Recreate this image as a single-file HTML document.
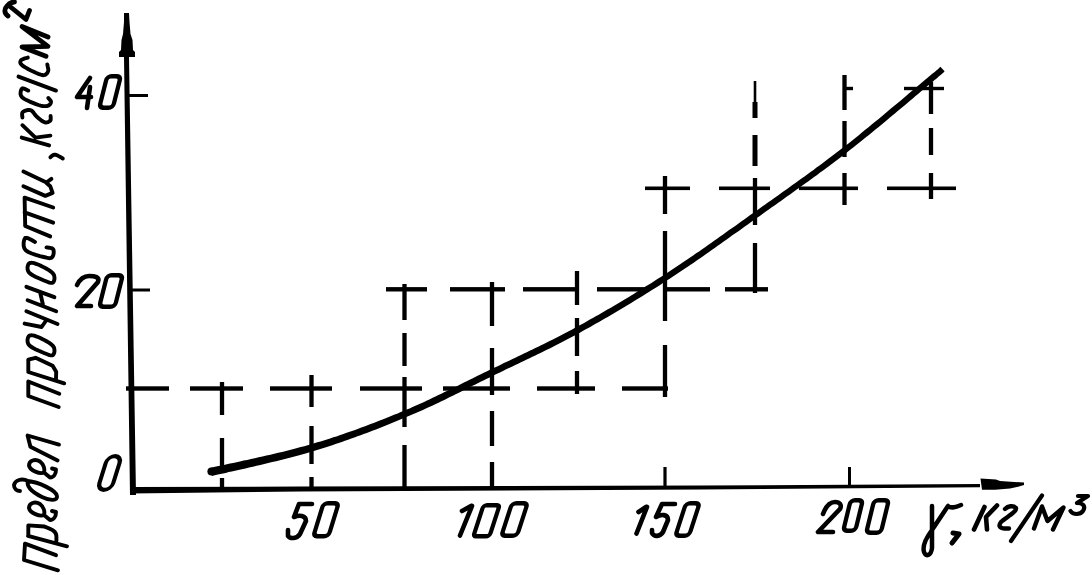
<!DOCTYPE html>
<html><head><meta charset="utf-8"><style>
html,body{margin:0;padding:0;background:#fff;width:1092px;height:575px;overflow:hidden}
svg{display:block}
text{font-family:"Liberation Sans",sans-serif;font-style:italic}
</style></head><body>
<svg width="1092" height="575" viewBox="0 0 1092 575">
<polygon points="124,14 129,14 129,57 136,495 130,495 124,57" fill="#000"/>
<polygon points="124,13 129,13 129.5,22 130.5,34 132.5,40 133,50 135,52 135,57 119,57 119,52 121,50 121.5,40 123,34 124,22" fill="#000"/>
<polygon points="130,487 300,486.5 700,485.5 980,484 980,487.2 700,489.6 300,491.5 130,493.5" fill="#000"/>
<polygon points="980.5,478.6 996,479.5 1000,481 1024,482.5 1024,485 1018,486.8 1010,488.5 995,489.7 982,489.7" fill="#000"/>
<rect x="128" y="94" width="20" height="3" fill="#000"/>
<rect x="130" y="288.5" width="20" height="3" fill="#000"/>
<rect x="126" y="386.3" width="43" height="4.4" fill="#000"/>
<rect x="190" y="386.3" width="53" height="4.4" fill="#000"/>
<rect x="270" y="386.3" width="62" height="4.4" fill="#000"/>
<rect x="360" y="386.3" width="62" height="4.4" fill="#000"/>
<rect x="443" y="386.3" width="67" height="4.4" fill="#000"/>
<rect x="537" y="386.3" width="58" height="4.4" fill="#000"/>
<rect x="622" y="386.3" width="46" height="4.4" fill="#000"/>
<rect x="386" y="287.1" width="41" height="4.4" fill="#000"/>
<rect x="450" y="287.1" width="55" height="4.4" fill="#000"/>
<rect x="523" y="287.1" width="55" height="4.4" fill="#000"/>
<rect x="597" y="287.1" width="52" height="4.4" fill="#000"/>
<rect x="664" y="287.1" width="46" height="4.4" fill="#000"/>
<rect x="725" y="287.1" width="43" height="4.4" fill="#000"/>
<rect x="645" y="186.5" width="45" height="3.6" fill="#000"/>
<rect x="719" y="186.5" width="51" height="3.6" fill="#000"/>
<rect x="799" y="186.5" width="59" height="3.6" fill="#000"/>
<rect x="887" y="186.5" width="69" height="3.6" fill="#000"/>
<rect x="904" y="86.8" width="40" height="3.4" fill="#000"/>
<rect x="844" y="86.8" width="9" height="3.4" fill="#000"/>
<rect x="219.85" y="382" width="4.3" height="33" fill="#000"/>
<rect x="219.85" y="438" width="4.3" height="35" fill="#000"/>
<rect x="219.85" y="478" width="4.3" height="12" fill="#000"/>
<rect x="309.35" y="375" width="4.3" height="32" fill="#000"/>
<rect x="309.35" y="426" width="4.3" height="38" fill="#000"/>
<rect x="309.35" y="477" width="4.3" height="13" fill="#000"/>
<rect x="402.35" y="284" width="4.3" height="36" fill="#000"/>
<rect x="402.35" y="333" width="4.3" height="33" fill="#000"/>
<rect x="402.35" y="377" width="4.3" height="50" fill="#000"/>
<rect x="402.35" y="445" width="4.3" height="45" fill="#000"/>
<rect x="489.85" y="282" width="4.3" height="44" fill="#000"/>
<rect x="489.85" y="348" width="4.3" height="47" fill="#000"/>
<rect x="489.85" y="411" width="4.3" height="35" fill="#000"/>
<rect x="489.85" y="462" width="4.3" height="26" fill="#000"/>
<rect x="574.85" y="271" width="4.3" height="34" fill="#000"/>
<rect x="574.85" y="318" width="4.3" height="38" fill="#000"/>
<rect x="574.85" y="371" width="4.3" height="23" fill="#000"/>
<rect x="662.85" y="176" width="4.3" height="38" fill="#000"/>
<rect x="662.85" y="231" width="4.3" height="90" fill="#000"/>
<rect x="662.85" y="345" width="4.3" height="52" fill="#000"/>
<rect x="663.4" y="467" width="3.2" height="20" fill="#000"/>
<rect x="753.7" y="81" width="2.6" height="23" fill="#000"/>
<rect x="752.5" y="102" width="5" height="16" fill="#000"/>
<rect x="752.5" y="135" width="5" height="31" fill="#000"/>
<rect x="752.85" y="178" width="4.3" height="47" fill="#000"/>
<rect x="752.85" y="243" width="4.3" height="50" fill="#000"/>
<rect x="842.35" y="75" width="4.3" height="35" fill="#000"/>
<rect x="842.35" y="121" width="4.3" height="36" fill="#000"/>
<rect x="842.35" y="173" width="4.3" height="32" fill="#000"/>
<rect x="928.85" y="82" width="4.3" height="32" fill="#000"/>
<rect x="928.85" y="128" width="4.3" height="27" fill="#000"/>
<rect x="928.85" y="173" width="4.3" height="26" fill="#000"/>
<rect x="848.0" y="467" width="3" height="18" fill="#000"/>
<polygon points="211.9,476.0 213.7,475.6 215.7,475.1 217.9,474.6 220.4,474.1 223.0,473.5 225.8,472.9 228.7,472.1 231.8,471.4 235.0,470.7 238.4,470.0 241.8,469.2 245.4,468.4 249.1,467.5 252.8,466.7 256.6,465.8 260.4,464.9 264.3,464.0 268.2,463.1 272.2,462.1 276.1,461.2 280.0,460.2 283.9,459.3 287.8,458.2 291.6,457.2 295.4,456.3 299.2,455.3 302.8,454.3 306.3,453.2 309.7,452.3 313.0,451.3 316.2,450.3 319.5,449.3 322.8,448.2 326.0,447.2 329.1,446.2 332.3,445.2 335.5,444.1 338.7,443.0 341.8,441.9 345.0,440.8 348.1,439.7 351.3,438.6 354.4,437.5 357.5,436.3 360.6,435.2 363.7,434.0 366.8,432.9 369.9,431.7 373.0,430.5 376.0,429.4 379.1,428.2 382.1,427.0 385.2,425.8 388.3,424.6 391.3,423.3 394.3,422.0 397.3,420.8 400.3,419.6 403.3,418.3 406.3,417.1 409.3,415.8 412.2,414.6 415.3,413.3 418.2,412.0 421.1,410.7 424.0,409.4 426.9,408.1 429.8,406.7 432.7,405.4 435.7,404.0 438.5,402.7 441.4,401.3 444.3,399.9 447.1,398.5 449.9,397.1 452.8,395.7 455.6,394.3 458.4,392.9 461.3,391.5 464.1,390.0 466.9,388.6 469.7,387.2 472.6,385.8 475.4,384.4 478.2,383.0 481.1,381.6 483.9,380.2 486.8,378.8 489.6,377.4 492.5,376.0 495.4,374.6 498.1,373.2 501.0,371.9 503.9,370.5 506.7,369.1 509.6,367.8 512.4,366.4 515.3,365.0 518.1,363.7 521.0,362.3 523.8,361.0 526.7,359.6 529.6,358.2 532.4,356.8 535.3,355.5 538.1,354.1 541.0,352.7 543.9,351.3 546.8,349.8 549.7,348.4 552.6,346.9 555.4,345.5 558.3,344.0 561.2,342.6 564.1,341.1 566.9,339.6 569.8,338.1 572.7,336.5 575.6,335.0 578.5,333.4 581.5,331.7 584.4,330.1 587.3,328.5 590.2,326.9 593.1,325.2 596.0,323.6 599.0,321.9 601.9,320.3 604.8,318.6 607.7,316.9 610.6,315.2 613.6,313.5 616.5,311.8 619.4,310.0 622.4,308.2 625.3,306.4 628.2,304.7 631.2,302.9 634.2,301.1 637.1,299.3 640.1,297.5 643.0,295.7 646.0,293.8 648.9,292.0 651.9,290.1 654.9,288.3 657.8,286.4 660.8,284.5 663.7,282.5 666.7,280.6 669.7,278.7 672.6,276.7 675.6,274.8 678.6,272.8 681.6,270.8 684.6,268.8 687.7,266.8 690.6,264.7 693.7,262.7 696.7,260.6 699.7,258.5 702.7,256.4 705.7,254.3 708.7,252.2 711.7,250.1 714.7,247.9 717.7,245.8 720.7,243.7 723.7,241.6 726.7,239.4 729.7,237.3 732.7,235.1 735.8,233.0 738.8,230.9 741.8,228.7 744.8,226.6 747.8,224.4 750.8,222.3 753.8,220.1 756.8,218.0 759.8,215.9 762.8,213.7 765.8,211.6 768.8,209.5 771.8,207.3 774.9,205.2 777.9,203.0 780.9,200.9 783.9,198.7 786.9,196.6 790.0,194.4 793.0,192.3 796.0,190.1 799.0,188.0 802.0,185.8 805.1,183.6 808.1,181.4 811.1,179.2 814.1,177.0 817.1,174.9 820.1,172.6 823.1,170.4 826.1,168.2 829.2,166.0 832.1,163.8 835.1,161.5 838.1,159.3 841.0,157.0 844.0,154.8 846.9,152.4 849.9,150.1 852.9,147.7 856.0,145.2 859.1,142.7 862.3,140.2 865.6,137.6 868.9,134.9 872.2,132.3 875.4,129.6 878.7,126.9 882.0,124.2 885.3,121.5 888.5,118.8 891.7,116.1 894.9,113.4 898.0,110.8 901.1,108.2 904.2,105.7 907.1,103.2 910.0,100.8 912.8,98.4 915.5,96.1 918.1,93.9 920.6,91.8 923.0,89.8 925.3,87.9 927.4,86.1 929.4,84.4 931.3,82.8 933.0,81.4 934.5,80.1 936.0,78.9 937.2,77.9 938.4,76.8 940.3,75.2 941.8,74.0 943.3,72.7 944.6,71.3 940.4,66.7 939.1,68.1 937.6,69.4 936.3,70.6 934.4,72.2 933.2,73.1 932.0,74.1 930.5,75.3 929.0,76.6 927.3,78.0 925.4,79.6 923.4,81.3 921.3,83.1 919.0,85.0 916.6,87.0 914.1,89.1 911.5,91.3 908.8,93.6 906.0,96.0 903.1,98.4 900.2,100.9 897.1,103.4 894.0,106.0 890.9,108.6 887.7,111.3 884.5,114.0 881.3,116.7 878.0,119.4 874.7,122.1 871.4,124.8 868.2,127.5 864.9,130.1 861.6,132.8 858.5,135.4 855.3,137.9 852.2,140.4 849.1,142.9 846.1,145.3 843.1,147.6 840.2,149.8 837.2,152.0 834.3,154.3 831.3,156.5 828.3,158.8 825.4,161.0 822.5,163.2 819.5,165.4 816.5,167.6 813.5,169.9 810.5,172.0 807.5,174.2 804.5,176.4 801.5,178.6 798.4,180.8 795.4,183.0 792.4,185.1 789.4,187.3 786.4,189.4 783.3,191.6 780.3,193.7 777.3,195.9 774.3,198.0 771.3,200.2 768.2,202.3 765.2,204.5 762.2,206.6 759.2,208.7 756.2,210.9 753.2,213.0 750.2,215.1 747.2,217.3 744.2,219.4 741.2,221.6 738.2,223.7 735.2,225.9 732.2,228.0 729.1,230.1 726.1,232.3 723.1,234.4 720.1,236.6 717.1,238.7 714.1,240.8 711.1,242.9 708.1,245.1 705.1,247.2 702.1,249.3 699.1,251.4 696.1,253.3 693.1,255.4 690.1,257.5 687.2,259.5 684.1,261.6 681.2,263.6 678.2,265.6 675.2,267.6 672.2,269.6 669.2,271.5 666.3,273.5 663.3,275.4 660.3,277.3 657.4,279.1 654.4,281.0 651.5,282.9 648.5,284.7 645.5,286.6 642.6,288.4 639.6,290.3 636.7,292.1 633.7,293.9 630.8,295.7 628.0,297.5 625.0,299.3 622.1,301.0 619.2,302.8 616.2,304.4 613.3,306.2 610.4,307.9 607.4,309.6 604.5,311.3 601.6,313.0 598.7,314.7 595.8,316.3 592.8,318.0 589.9,319.6 587.0,321.3 584.1,322.9 581.2,324.5 578.3,326.1 575.5,327.6 572.6,329.2 569.7,330.7 566.8,332.3 563.9,333.8 561.1,335.3 558.2,336.8 555.3,338.2 552.4,339.7 549.6,341.1 546.7,342.6 543.8,344.0 541.1,345.3 538.2,346.7 535.3,348.1 532.5,349.5 529.6,350.8 526.8,352.2 523.9,353.6 521.0,355.0 518.2,356.3 515.3,357.7 512.5,359.0 509.6,360.4 506.8,361.8 503.9,363.1 501.1,364.5 498.2,365.9 495.3,367.2 492.4,368.6 489.5,370.0 486.6,371.4 483.8,372.8 480.9,374.2 478.1,375.6 475.2,377.0 472.4,378.4 469.6,379.8 466.7,381.2 463.9,382.6 461.1,384.0 458.3,385.5 455.4,386.9 452.6,388.3 449.8,389.7 446.9,390.9 444.1,392.3 441.3,393.7 438.4,395.1 435.5,396.5 432.7,397.8 429.9,399.2 427.0,400.5 424.1,401.9 421.2,403.2 418.3,404.5 415.4,405.8 412.5,407.1 409.6,408.4 406.7,409.6 403.7,410.9 400.7,412.1 397.7,413.4 394.7,414.6 391.7,415.8 388.7,417.1 385.7,418.2 382.6,419.4 379.7,420.6 376.7,421.8 373.6,423.0 370.6,424.1 367.5,425.3 364.4,426.5 361.3,427.6 358.2,428.8 355.1,429.9 352.0,430.9 348.9,432.0 345.9,433.1 342.8,434.2 339.6,435.3 336.5,436.4 333.3,437.3 330.1,438.4 326.9,439.4 323.8,440.4 320.6,441.4 317.3,442.3 314.2,443.3 311.0,444.3 307.7,445.3 304.3,446.2 300.8,447.1 297.2,448.1 293.6,449.1 289.8,450.0 286.0,451.0 282.1,451.9 278.2,452.8 274.3,453.8 270.4,454.7 266.4,455.5 262.5,456.4 258.6,457.3 254.8,458.2 251.0,459.1 247.3,459.9 243.6,460.6 240.0,461.4 236.6,462.2 233.2,462.9 230.0,463.6 226.9,464.3 224.0,464.9 221.2,465.5 218.6,466.1 216.1,466.6 213.9,467.1 211.9,467.6 210.1,468.0" fill="#000"/>
<circle cx="211.5" cy="471.5" r="4.1" fill="#000"/>
<path d="M90,78 L77,97 L91,97 M90,87 L87,108" fill="none" stroke="#000" stroke-width="4.6" stroke-linecap="round" stroke-linejoin="round"/>
<g transform="translate(96.5,110) skewX(-14.04)"><rect x="2.2" y="-33.8" width="13.60" height="31.6" rx="4" fill="none" stroke="#000" stroke-width="4.4"/></g>
<path d="M77,285 C80,279 84,276 89,276 C95,276 100,277 98,282 L77,306 L91,306" fill="none" stroke="#000" stroke-width="4.6" stroke-linecap="round" stroke-linejoin="round"/>
<g transform="translate(96.5,309) skewX(-14.04)"><rect x="2.2" y="-33.8" width="15.60" height="31.6" rx="4" fill="none" stroke="#000" stroke-width="4.4"/></g>
<g transform="translate(94.5,492) skewX(-17.53)"><rect x="2.1" y="-35.9" width="13.80" height="33.8" rx="7" fill="none" stroke="#000" stroke-width="4.2"/></g>
<path d="M312,504 L299,504 L294,517 C299,515 306,515 306,521 L300,534 C297,539 290,539 288,536 L288,530" fill="none" stroke="#000" stroke-width="4.6" stroke-linecap="round" stroke-linejoin="round"/>
<g transform="translate(310.5,538.5) skewX(-17.05)"><rect x="2.2" y="-35.3" width="15.10" height="33.1" rx="4" fill="none" stroke="#000" stroke-width="4.4"/></g>
<path d="M462,511 L471,506 M472,506 L460,535.5" fill="none" stroke="#000" stroke-width="4.6" stroke-linecap="round" stroke-linejoin="round"/>
<g transform="translate(470.5,538.5) skewX(-17.95)"><rect x="2.2" y="-33.3" width="16.10" height="31.1" rx="3" fill="none" stroke="#000" stroke-width="4.4"/></g>
<g transform="translate(498.5,538) skewX(-17.97)"><rect x="2.2" y="-34.8" width="15.60" height="32.6" rx="4" fill="none" stroke="#000" stroke-width="4.4"/></g>
<path d="M638.5,512 L646,507 M647,507 L636.5,533.5" fill="none" stroke="#000" stroke-width="4.6" stroke-linecap="round" stroke-linejoin="round"/>
<path d="M675,504 L662,504 L656,517 C661,514 668,514 668,520 L663,532 C660,537 654,537 652,533 L652,530" fill="none" stroke="#000" stroke-width="4.6" stroke-linecap="round" stroke-linejoin="round"/>
<g transform="translate(672.5,538) skewX(-17.97)"><rect x="2.2" y="-34.8" width="13.60" height="32.6" rx="4" fill="none" stroke="#000" stroke-width="4.4"/></g>
<path d="M823,514 C826,506 830,502 835,502 C840,502 842,505 840,509 L818,532 L833,532" fill="none" stroke="#000" stroke-width="4.6" stroke-linecap="round" stroke-linejoin="round"/>
<g transform="translate(840.5,533) skewX(-13.65)"><rect x="2.2" y="-32.8" width="12.10" height="30.6" rx="4" fill="none" stroke="#000" stroke-width="4.4"/></g>
<g transform="translate(863.5,535) skewX(-13.67)"><rect x="2.2" y="-34.8" width="14.60" height="32.6" rx="4" fill="none" stroke="#000" stroke-width="4.4"/></g>
<path d="M56,555.2 L25,543.7 L24,560 L58,570.3" fill="none" stroke="#000" stroke-width="3.9" stroke-linecap="round" stroke-linejoin="round"/>
<path d="M28,535.9 L67,546.3 M28.3,535 L28.3,525.4 L44.4,526.5 C51,529 56.4,531 56.4,536 L56.4,541" fill="none" stroke="#000" stroke-width="3.9" stroke-linecap="round" stroke-linejoin="round"/>
<path d="M44,515 C40,517 30,513 29,508 C29,503 35,501 40,504 C44,507 45,512 44,515 L50,520 C54,520 56,516 56,512 L52,511" fill="none" stroke="#000" stroke-width="3.9" stroke-linecap="round" stroke-linejoin="round"/>
<path d="M28,481 C38,482 56,490 57,496 C58,501 50,501 42,497 C34,493 26,487 28,481 C22,478 15,480 14,485 C14,489 17,491 20,491" fill="none" stroke="#000" stroke-width="3.9" stroke-linecap="round" stroke-linejoin="round"/>
<path d="M44,472.5 C40,474.5 30,470.5 29,465.5 C29,460.5 35,458.5 40,461.5 C44,464.5 45,469.5 44,472.5 L50,477.5 C54,477.5 56,473.5 56,469.5 L52,468.5" fill="none" stroke="#000" stroke-width="3.9" stroke-linecap="round" stroke-linejoin="round"/>
<path d="M59,444.6 L27.6,435.5 L30.4,446.8 L57.6,460.4" fill="none" stroke="#000" stroke-width="3.9" stroke-linecap="round" stroke-linejoin="round"/>
<path d="M59.3,393.7 L28.3,381.5 L28.3,396 L58.7,407" fill="none" stroke="#000" stroke-width="3.9" stroke-linecap="round" stroke-linejoin="round"/>
<path d="M28.3,372 L64.2,383.3 M28.3,371 L28.3,359.6 L35.6,357.8 L52.6,365.7 L56.2,371.8 L56,379" fill="none" stroke="#000" stroke-width="3.9" stroke-linecap="round" stroke-linejoin="round"/>
<path d="M29.0,336.0 L28.3,336.9 L27.8,338.3 L27.5,339.9 L27.6,341.7 L28.0,343.4 L29.0,345.0 L30.7,346.5 L33.1,348.0 L35.9,349.4 L38.9,350.8 L41.7,352.0 L44.0,353.0 L46.0,353.8 L47.8,354.5 L49.4,355.1 L50.9,355.4 L52.1,355.4 L53.0,355.0 L53.7,354.1 L54.2,352.8 L54.5,351.2 L54.4,349.4 L54.0,347.6 L53.0,346.0 L51.3,344.4 L48.9,342.7 L46.1,341.0 L43.1,339.4 L40.3,338.0 L38.0,337.0 L36.0,336.3 L34.2,335.7 L32.6,335.4 L31.1,335.3 L29.9,335.5 Z" fill="none" stroke="#000" stroke-width="3.9" stroke-linecap="round" stroke-linejoin="round"/>
<path d="M26.4,311.2 L57.5,324 M24.6,323.6 L41.6,327 L46.5,320" fill="none" stroke="#000" stroke-width="3.9" stroke-linecap="round" stroke-linejoin="round"/>
<path d="M26.4,286.8 L54.4,297.2 M27.6,300.2 L56.2,311.2 M40.4,293.5 L42.9,304.5" fill="none" stroke="#000" stroke-width="3.9" stroke-linecap="round" stroke-linejoin="round"/>
<path d="M29.0,263.5 L28.3,264.4 L27.8,265.8 L27.5,267.4 L27.6,269.2 L28.0,270.9 L29.0,272.5 L30.7,274.0 L33.1,275.5 L35.9,276.9 L38.9,278.3 L41.7,279.5 L44.0,280.5 L46.0,281.3 L47.8,282.0 L49.4,282.6 L50.9,282.9 L52.1,282.9 L53.0,282.5 L53.7,281.6 L54.2,280.3 L54.5,278.7 L54.4,276.9 L54.0,275.1 L53.0,273.5 L51.3,271.9 L48.9,270.2 L46.1,268.5 L43.1,266.9 L40.3,265.5 L38.0,264.5 L36.0,263.8 L34.2,263.2 L32.6,262.9 L31.1,262.8 L29.9,263.0 Z" fill="none" stroke="#000" stroke-width="3.9" stroke-linecap="round" stroke-linejoin="round"/>
<path d="M35.0,241.9 L33.8,241.3 L32.1,240.3 L30.1,239.2 L28.1,238.2 L26.3,237.8 L25.2,238.0 L24.5,239.2 L23.9,241.1 L23.6,243.5 L23.7,246.0 L24.4,248.4 L25.8,250.4 L28.3,252.0 L31.8,253.5 L35.8,254.9 L39.9,256.1 L43.7,257.0 L46.5,257.7 L48.4,258.1 L49.8,258.2 L50.8,258.0 L51.5,257.7 L52.1,257.2 L52.6,256.5 L53.1,255.6 L53.5,254.3 L53.7,252.9 L53.7,251.5 L53.6,250.2 L53.2,249.2 L52.4,248.6 L51.3,248.1 L49.9,247.8 L48.5,247.7 L47.3,247.5 L46.5,247.4" fill="none" stroke="#000" stroke-width="3.9" stroke-linecap="round" stroke-linejoin="round"/>
<path d="M53.2,207.5 L24.6,197.7 L25.2,226 L50.2,236.4 M24.6,212.3 L53.2,222.7" fill="none" stroke="#000" stroke-width="3.9" stroke-linecap="round" stroke-linejoin="round"/>
<path d="M23.4,171.6 L46.5,182.5 L51.4,178.9 M23.4,186.2 L45.3,195.9 L52.6,192.9 L50.2,186.2 L46.5,183" fill="none" stroke="#000" stroke-width="3.9" stroke-linecap="round" stroke-linejoin="round"/>
<path d="M50.4,157.2 L50.9,156.8 L51.5,156.3 L52.2,155.7 L53.1,155.1 L54.0,154.7 L55.0,154.6 L56.2,154.9 L57.7,155.6 L59.2,156.4 L60.7,157.2 L61.9,158.0 L62.8,158.5" fill="none" stroke="#000" stroke-width="3.9" stroke-linecap="round" stroke-linejoin="round"/>
<path d="M21.7,137.6 L49.1,145.4 M22.4,125.2 L35.4,137.6 L50.4,135.6" fill="none" stroke="#000" stroke-width="3.9" stroke-linecap="round" stroke-linejoin="round"/>
<path d="M22.4,117.6 L22.4,116.9 L22.2,116.0 L22.1,114.9 L22.1,113.8 L22.3,112.8 L22.8,112.0 L23.7,111.4 L24.9,110.8 L26.3,110.3 L27.8,110.0 L29.3,109.9 L30.6,110.1 L31.7,110.7 L32.8,111.7 L33.8,113.0 L34.7,114.3 L35.8,115.7 L36.9,116.8 L38.1,117.9 L39.5,119.0 L40.8,120.1 L42.2,121.0 L43.5,121.8 L44.7,122.3 L45.8,122.5 L46.9,122.4 L47.9,122.1 L48.8,121.7 L49.6,121.2 L50.2,120.7 L50.6,120.0 L50.7,119.2 L50.7,118.2 L50.7,117.3 L50.6,116.5 L50.6,116.0" fill="none" stroke="#000" stroke-width="3.9" stroke-linecap="round" stroke-linejoin="round"/>
<path d="M28.3,90.6 L27.5,90.3 L26.4,89.7 L25.2,89.1 L23.9,88.6 L22.8,88.3 L22.0,88.6 L21.4,89.4 L20.9,90.7 L20.6,92.3 L20.5,94.0 L21.0,95.7 L22.0,97.2 L23.9,98.6 L26.5,100.1 L29.7,101.6 L32.9,102.9 L36.0,104.1 L38.5,105.0 L40.6,105.6 L42.4,106.0 L44.0,106.1 L45.5,106.1 L46.8,106.0 L47.9,105.8 L48.8,105.4 L49.6,104.8 L50.2,104.1 L50.6,103.4 L50.9,102.6 L51.0,101.9 L50.9,101.2 L50.4,100.5 L49.8,99.7 L49.2,99.0 L48.7,98.4 L48.3,98.0" fill="none" stroke="#000" stroke-width="3.9" stroke-linecap="round" stroke-linejoin="round"/>
<path d="M18.5,76.6 L56,90.6" fill="none" stroke="#000" stroke-width="3.9" stroke-linecap="round" stroke-linejoin="round"/>
<path d="M27.8,57.6 L26.9,57.9 L25.7,58.2 L24.2,58.6 L22.8,59.2 L21.6,59.7 L20.9,60.4 L20.5,61.1 L20.3,61.9 L20.3,62.8 L20.7,63.8 L21.6,64.8 L23.0,66.0 L25.3,67.4 L28.5,69.2 L32.1,71.1 L35.8,72.8 L39.2,74.2 L41.8,75.0 L43.6,75.2 L45.1,74.9 L46.1,74.2 L46.9,73.4 L47.5,72.4 L48.0,71.5 L48.3,70.5 L48.3,69.2 L48.0,67.8 L47.7,66.4 L47.5,65.3 L47.3,64.5" fill="none" stroke="#000" stroke-width="3.9" stroke-linecap="round" stroke-linejoin="round"/>
<path d="M48,37 L22,26.6 L48,46.4 L22,47 L46,56.3" fill="none" stroke="#000" stroke-width="4.8" stroke-linecap="round" stroke-linejoin="round"/>
<path d="M8,16 C4,13 4,9 7,6 C9,3 12,2 14.5,2 M10,6.5 L26,19.5 L29.5,10.5" fill="none" stroke="#000" stroke-width="4.8" stroke-linecap="round" stroke-linejoin="round"/>
<path d="M932,506 L932,530 M961,505 C956,507 951,509 948,506 L932,530 C926,538 922,545 924,552 C926,557 931,556 932,548 L932,530" fill="none" stroke="#000" stroke-width="4.5" stroke-linecap="round" stroke-linejoin="round"/>
<path d="M953,533 L959,534 L952,543" fill="none" stroke="#000" stroke-width="5" stroke-linecap="round" stroke-linejoin="round"/>
<path d="M984.5,507 L974,529.5 M997,505.5 L986,517 L987,529.5" fill="none" stroke="#000" stroke-width="4.6" stroke-linecap="round" stroke-linejoin="round"/>
<path d="M1005,509 C1008,506 1013,505 1016,508 C1017,512 1005,518 1001,522 C998,526 999,529 1009,528.5" fill="none" stroke="#000" stroke-width="4.4" stroke-linecap="round" stroke-linejoin="round"/>
<path d="M1042,495.5 L1011,541" fill="none" stroke="#000" stroke-width="4.2" stroke-linecap="round" stroke-linejoin="round"/>
<path d="M1042,506.5 L1034,528.5 M1042,506.5 L1047.5,521 L1063.5,507.5 L1053,529.5" fill="none" stroke="#000" stroke-width="4.4" stroke-linecap="round" stroke-linejoin="round"/>
<path d="M1078,496 L1088,496 L1077,503 C1083,503 1086,506 1083,511 C1080,515 1073,515 1070.5,511" fill="none" stroke="#000" stroke-width="4.2" stroke-linecap="round" stroke-linejoin="round"/>
</svg>
</body></html>
